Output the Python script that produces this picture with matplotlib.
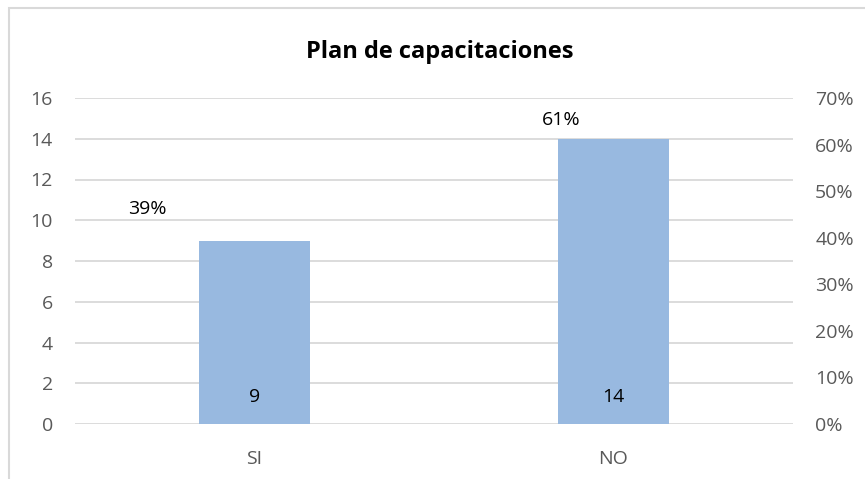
import numpy as np
import matplotlib.pyplot as plt
from matplotlib.patches import Rectangle

plt.rcParams['font.family'] = ['Open Sans', 'DejaVu Sans']

categories = ['SI', 'NO']
counts = [9, 14]
shares = [0.39, 0.61]
left_ticks = np.arange(0, 17, 2)
right_ticks = np.arange(0, 0.71, 0.1)

# pixel nudges for the percentage labels (dx, dy)
pct_offsets = [(-107, 33), (-52, 20)]

W, H = 865, 479
fig = plt.figure(figsize=(W / 100, H / 100), dpi=100)

# chart frame (runs off the right and bottom edges)
fig.patches.append(Rectangle((9 / W, -0.1), 1.2, 1.1 - 8 / H, transform=fig.transFigure,
                             fill=False, edgecolor='#d9d9d9', linewidth=1.5))

ax = fig.add_axes([75 / W, 1 - 424 / H, (793 - 75) / W, (424 - 98) / H])
x = np.arange(len(categories))
ax.bar(x, counts, width=0.31, color='#98b9e0', zorder=3)
ax.set_xlim(-0.5, 1.5)
ax.set_ylim(0, 16)
ax.set_yticks(left_ticks)
ax.set_xticks(x)
ax.set_xticklabels(categories)
ax.grid(axis='y', color='#d9d9d9', linewidth=1.3, zorder=0)
for s in ax.spines.values():
    s.set_visible(False)
ax.tick_params(length=0, labelsize=14, colors='#595959', pad=16)
ax.tick_params(axis='x', pad=19)

for xi, c in zip(x, counts):
    ax.annotate(str(c), (xi, 0), xytext=(0, 27), textcoords='offset pixels',
                ha='center', va='center', fontsize=14, color='black')

ax2 = ax.twinx()
ax2.set_ylim(0, 0.7)
ax2.set_yticks(right_ticks)
ax2.set_yticklabels([f'{int(round(v * 100))}%' for v in right_ticks])
for s in ax2.spines.values():
    s.set_visible(False)
ax2.tick_params(length=0, labelsize=14, colors='#595959', pad=16)

for xi, p, off in zip(x, shares, pct_offsets):
    ax2.annotate(f'{int(round(p * 100))}%', (xi, p), xytext=off,
                 textcoords='offset pixels', ha='center', va='center',
                 fontsize=14, color='black')

fig.text(440 / W, 1 - 52 / H, 'Plan de capacitaciones', ha='center', va='center',
         fontsize=17, fontweight='bold', color='black')

fig.savefig('out.png', dpi=100)
